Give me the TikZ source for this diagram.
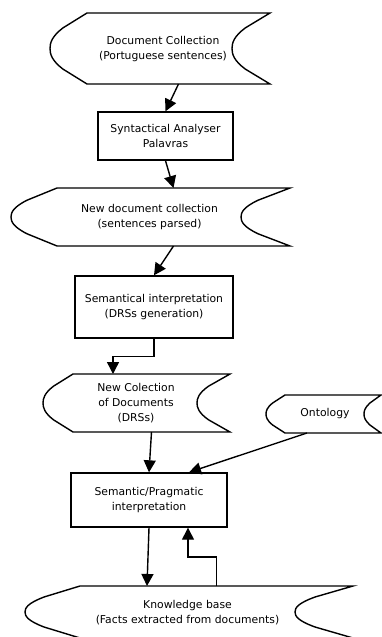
\documentclass[tikz,border=0pt]{standalone}
\usepackage{fontspec}
\setmainfont{DejaVu Sans}
\usetikzlibrary{arrows.meta,calc}
\tikzset{
  shp/.style={line width=1.4pt, line join=miter},
  frame/.style={rectangle, inner sep=0pt, outer sep=0pt, draw=none},
  procbox/.style={rectangle, draw, line width=1.4pt, inner sep=0pt, align=center, font=\fontsize{10.8}{15}\selectfont},
  txt/.style={inner sep=0pt, align=center, font=\fontsize{10.8}{15}\selectfont},
  conn/.style={line width=1.4pt, -{Triangle[length=12pt,width=12pt]}}
}
\newcommand\sdshape[3]{%
 \draw[shp] let \p1=(#1.north west), \p2=(#1.south east), \n1={\y1-\y2} in
 (\x1,\y1) -- (\x2,\y1)
 -- ({\x2-0.65*#3pt},{\y1-0.21*\n1})
 .. controls ({\x2-0.95*#3pt},{\y1-0.33*\n1}) and ({\x2-#3pt},{\y1-0.42*\n1}) .. ({\x2-#3pt},{\y1-0.5*\n1})
 .. controls ({\x2-#3pt},{\y1-0.58*\n1}) and ({\x2-0.95*#3pt},{\y1-0.67*\n1}) .. ({\x2-0.65*#3pt},{\y1-0.79*\n1})
 -- (\x2,\y2) -- (\x1,\y2)
 -- ({\x1-0.65*#2pt},{\y1-0.79*\n1})
 .. controls ({\x1-0.95*#2pt},{\y1-0.67*\n1}) and ({\x1-#2pt},{\y1-0.58*\n1}) .. ({\x1-#2pt},{\y1-0.5*\n1})
 .. controls ({\x1-#2pt},{\y1-0.42*\n1}) and ({\x1-0.95*#2pt},{\y1-0.33*\n1}) .. ({\x1-0.65*#2pt},{\y1-0.21*\n1})
 -- cycle;}
\begin{document}
\begin{tikzpicture}[x=1pt,y=-1pt]
\useasboundingbox (0,0) rectangle (382,637);
% stored-data frames
\node[frame, minimum width=183pt, minimum height=71pt] (s1) at (178.5,48.5) {};
\node[frame, minimum width=233pt, minimum height=58pt] (s2) at (173.5,217) {};
\node[frame, minimum width=157pt, minimum height=58pt] (s3) at (151.5,403) {};
\node[frame, minimum width=96pt, minimum height=38pt] (ont) at (333,414) {};
\node[frame, minimum width=273pt, minimum height=52pt] (kb) at (216.5,612) {};
\sdshape{s1}{37}{38}
\sdshape{s2}{46}{49}
\sdshape{s3}{30}{33}
\sdshape{ont}{19}{17}
\sdshape{kb}{55}{58}
% texts in stored-data shapes
\node[txt] (s1t) at (163,49) {Document Collection\\(Portuguese sentences)};
\node[txt] (s2t) at (149.5,217) {New document collection\\(sentences parsed)};
\node[txt] (s3t) at (136,403) {New Colection\\of Documents\\(DRSs)};
\node[txt] (ontt) at (325,414) {Ontology};
\node[txt] (kbt) at (187.5,613) {Knowledge base\\(Facts extracted from documents)};
% process boxes
\node[procbox, minimum width=135pt, minimum height=48pt] (r1) at (165.5,136) {Syntactical Analyser\\Palavras};
\node[procbox, minimum width=158pt, minimum height=62pt] (r2) at (154,307) {Semantical interpretation\\(DRSs generation)};
\node[procbox, minimum width=156pt, minimum height=54pt] (r3) at (149,500) {Semantic/Pragmatic\\interpretation};
% connectors
\draw[conn] (s1.south) -- (r1.north);
\draw[conn] (r1.south) -- (s2.north);
\draw[conn] (s2.south) -- (r2.north);
\draw[conn] (r2.south) -- ($(r2.south)+(0,18)$) -| ($(s3.north west)+(40,0)$);
\draw[conn] (s3.south) -- (r3.north);
\draw[conn] ($(ont.south west)+(22,0)$) -- ($(r3.north)+(40,0)$);
\draw[conn] (r3.south) -- ($(kb.north west)+(67,0)$);
\draw[conn] (kb.north) -- ($(kb.north)+(0,-29)$) -| ($(r3.south)+(39,0)$);
\end{tikzpicture}
\end{document}
